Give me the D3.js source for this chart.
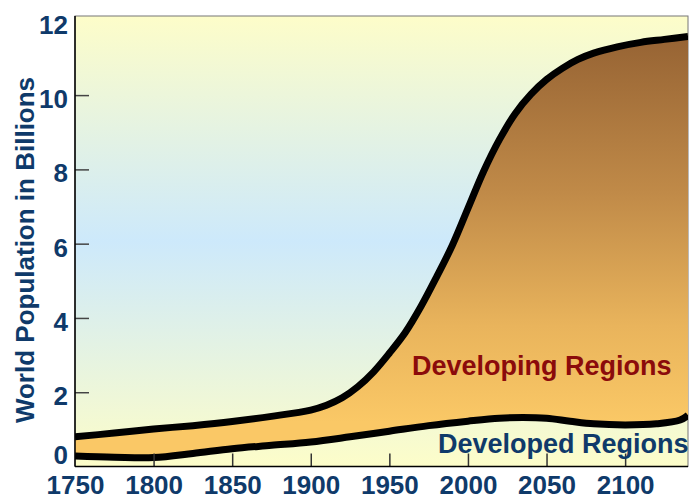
<!DOCTYPE html>
<html>
<head>
<meta charset="utf-8">
<script src="https://cdn.jsdelivr.net/npm/d3@7"></script>
<style>
  body { margin: 0; background: #fff; }
  text { font-family: "Liberation Sans", Arial, sans-serif; font-weight: bold; }
</style>
</head>
<body>
<div id="chart"></div>
<script>
// total population (top curve), billions
var totalYears = [1750, 1775, 1800, 1825, 1850, 1875, 1900, 1910, 1920, 1930, 1940, 1950, 1960, 1970, 1980, 1990, 2000, 2010, 2020, 2030, 2040, 2050, 2060, 2070, 2080, 2095, 2110, 2125, 2140];
var totalPop = [0.80, 0.90, 1.01, 1.10, 1.21, 1.35, 1.52, 1.65, 1.85, 2.15, 2.55, 3.05, 3.60, 4.30, 5.10, 5.95, 6.95, 7.95, 8.80, 9.50, 10.02, 10.42, 10.72, 10.96, 11.13, 11.30, 11.42, 11.50, 11.58];

// developed regions (bottom curve), billions
var devYears = [1750, 1775, 1800, 1825, 1850, 1875, 1900, 1925, 1950, 1975, 2000, 2020, 2035, 2050, 2065, 2080, 2100, 2120, 2135, 2140];
var devPop = [0.28, 0.25, 0.24, 0.35, 0.48, 0.57, 0.66, 0.80, 0.95, 1.10, 1.22, 1.30, 1.32, 1.30, 1.22, 1.15, 1.12, 1.15, 1.25, 1.38];

var yearTicks = [1750, 1800, 1850, 1900, 1950, 2000, 2050, 2100];
var popTicks = [0, 2, 4, 6, 8, 10, 12];

const W = 690, H = 501;
const pLeft = 75, pRight = 688, pTop = 16, pBottom = 466.5;

const svg = d3.select("#chart").append("svg")
  .attr("width", W)
  .attr("height", H);

const x = d3.scaleLinear().domain([1750, 2140]).range([pLeft, pRight]);
const y = d3.scaleLinear().domain([0, 12.13]).range([pBottom, pTop]);

const defs = svg.append("defs");

const bg = defs.append("linearGradient")
  .attr("id", "bg")
  .attr("x1", 0).attr("y1", 0).attr("x2", 0).attr("y2", 1);
bg.append("stop").attr("offset", "0%").attr("stop-color", "#fdfdc9");
bg.append("stop").attr("offset", "50%").attr("stop-color", "#cde9fb");
bg.append("stop").attr("offset", "100%").attr("stop-color", "#fdfdc9");

const fill = defs.append("linearGradient")
  .attr("id", "fill")
  .attr("gradientUnits", "userSpaceOnUse")
  .attr("x1", 0).attr("y1", y(11.5)).attr("x2", 0).attr("y2", y(1.2));
fill.append("stop").attr("offset", "0%").attr("stop-color", "#976434");
fill.append("stop").attr("offset", "40%").attr("stop-color", "#c08a48");
fill.append("stop").attr("offset", "75%").attr("stop-color", "#e9b45c");
fill.append("stop").attr("offset", "100%").attr("stop-color", "#fac866");

defs.append("clipPath").attr("id", "clip")
  .append("rect")
  .attr("x", pLeft).attr("y", pTop)
  .attr("width", pRight - pLeft).attr("height", pBottom - pTop);

svg.append("rect")
  .attr("x", pLeft).attr("y", pTop)
  .attr("width", pRight - pLeft).attr("height", pBottom - pTop)
  .attr("fill", "url(#bg)")
  .attr("stroke", "#777")
  .attr("stroke-width", 1);

const popLine = d3.line()
  .x(function (d) { return x(d[0]); })
  .y(function (d) { return y(d[1]); })
  .curve(d3.curveCatmullRom.alpha(0.5));

const totalData = totalYears.map(function (yr, i) { return [yr, totalPop[i]]; });
const devData = devYears.map(function (yr, i) { return [yr, devPop[i]]; });

// area between developed curve and total curve
const topPath = popLine(totalData);
const botPath = popLine(devData.slice().reverse());

const g = svg.append("g").attr("clip-path", "url(#clip)");

g.append("path")
  .attr("d", topPath + "L" + botPath.slice(1) + "Z")
  .attr("fill", "url(#fill)");

g.append("path")
  .datum(totalData)
  .attr("d", popLine)
  .attr("fill", "none")
  .attr("stroke", "#000")
  .attr("stroke-width", 7);

g.append("path")
  .datum(devData)
  .attr("d", popLine)
  .attr("fill", "none")
  .attr("stroke", "#000")
  .attr("stroke-width", 7);

// axes
const yAxis = svg.append("g")
  .attr("transform", "translate(" + pLeft + ",0)")
  .call(d3.axisLeft(y).tickValues(popTicks).tickSizeInner(-14).tickSizeOuter(0).tickPadding(7));
yAxis.select(".domain").remove();
yAxis.selectAll(".tick line")
  .attr("stroke", function (d) { return d === 0 || d === 12 ? "none" : "#444"; })
  .attr("stroke-width", 1.5);
yAxis.selectAll(".tick text")
  .attr("fill", "#0f3a6a")
  .attr("font-size", 26)
  .attr("dy", "0.48em")
  .attr("y", function (d) { return d === 0 ? -15 : 0; });

const xAxis = svg.append("g")
  .attr("transform", "translate(0," + pBottom + ")")
  .call(d3.axisBottom(x).tickValues(yearTicks).tickFormat(d3.format("d")).tickSizeInner(-13).tickSizeOuter(0).tickPadding(9));
xAxis.select(".domain").remove();
xAxis.selectAll(".tick line")
  .attr("stroke", function (d) { return d === 1750 ? "none" : "#333"; })
  .attr("stroke-width", 1.5);
xAxis.selectAll(".tick text")
  .attr("fill", "#0f3a6a")
  .attr("font-size", 26);

// frame: left and bottom edges in black
svg.append("line")
  .attr("x1", pLeft).attr("x2", pLeft).attr("y1", pTop).attr("y2", pBottom)
  .attr("stroke", "#000").attr("stroke-width", 1.5);
svg.append("line")
  .attr("x1", pLeft).attr("x2", pRight).attr("y1", pBottom).attr("y2", pBottom)
  .attr("stroke", "#000").attr("stroke-width", 1.5);

svg.append("text")
  .attr("transform", "translate(34,250) rotate(-90)")
  .attr("text-anchor", "middle")
  .attr("font-size", 26)
  .attr("fill", "#0f3a6a")
  .text("World Population in Billions");

svg.append("text")
  .attr("x", 412).attr("y", 375)
  .attr("font-size", 27)
  .attr("fill", "#8b0b0b")
  .text("Developing Regions");

svg.append("text")
  .attr("x", 438).attr("y", 453)
  .attr("font-size", 27)
  .attr("fill", "#0f3a6a")
  .text("Developed Regions");
</script>
</body>
</html>
